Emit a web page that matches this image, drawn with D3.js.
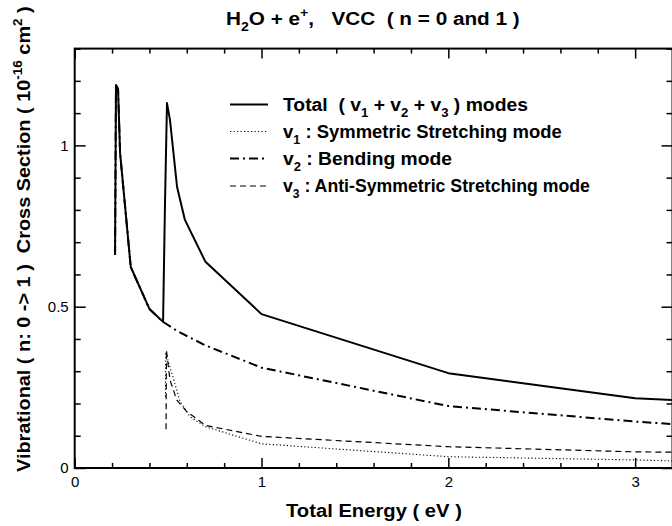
<!DOCTYPE html>
<html><head><meta charset="utf-8">
<script src="https://cdn.jsdelivr.net/npm/d3@7"></script>
<style>body{margin:0;background:#fff}svg{display:block}text{font-family:"Liberation Sans",Arial,Helvetica,sans-serif;fill:#000}</style>
</head><body>
<svg id="c" width="672" height="526"></svg>
<script>
// ---- data ----
const xMajorTicks = [0, 1, 2, 3];
const xTickLabels = ["0", "1", "2", "3"];
const xMinorTicks = [0.2,0.4,0.6,0.8,1.2,1.4,1.6,1.8,2.2,2.4,2.6,2.8,3.2];
const yMajorTicks = [0, 0.5, 1];
const yTickLabels = ["0", "0.5", "1"];
const yMinorTicks = [0.1,0.2,0.3,0.4,0.6,0.7,0.8,0.9,1.1,1.2,1.3];

const totalE = [0.216,0.221,0.232,0.243,0.3,0.4,0.473,0.483,0.494,0.51,0.548,0.59,0.7,1.0,2.0,3.0,3.2];
const totalY = [0.66,1.187,1.175,0.976,0.623,0.493,0.453,0.809,1.131,1.079,0.871,0.769,0.639,0.477,0.294,0.216,0.211];
const v1E = [0.486,0.488,0.501,0.528,0.564,0.617,0.7,1.0,2.0,3.0,3.2];
const v1Y = [0.221,0.36,0.33,0.278,0.206,0.159,0.128,0.075,0.035,0.025,0.022];
const v2E = [0.216,0.221,0.232,0.243,0.3,0.4,0.473,0.55,0.7,1.0,2.0,3.0,3.2];
const v2Y = [0.66,1.187,1.175,0.976,0.623,0.493,0.453,0.424,0.38,0.311,0.192,0.144,0.136];
const v3E = [0.489,0.491,0.51,0.546,0.6,0.7,1.0,2.0,3.0,3.2];
const v3Y = [0.12,0.365,0.273,0.211,0.175,0.132,0.098,0.066,0.05,0.049];

const titleText = [["H",""],["2","sub"],["O + e",""],["+","sup"],[",   VCC  ( n = 0 and 1 )",""]];
const xLabelText = [["Total Energy ( eV )",""]];
const yLabelText = [["Vibrational ( n: 0 -> 1 )  Cross Section ( 10",""],["-16","sup"],[" cm",""],["2","sup"],[" )",""]];
const legendLabels = [
  [["Total  ( v",""],["1","sub"],[" + v",""],["2","sub"],[" + v",""],["3","sub"],[" ) modes",""]],
  [["v",""],["1","sub"],[" : Symmetric Stretching mode",""]],
  [["v",""],["2","sub"],[" : Bending mode",""]],
  [["v",""],["3","sub"],[" : Anti-Symmetric Stretching mode",""]]
];

// ---- layout ----
const svg = d3.select("#c");
const L = 74.7, R = 672.5, T = 48.6, B = 468;
const x = d3.scaleLinear().domain([0, 3.2]).range([L, R]);
const y = d3.scaleLinear().domain([0, 1.3]).range([B, T]);

const styles = [
  {w: 2, dash: null},
  {w: 1.1, dash: "1.2,2.3"},
  {w: 2, dash: "9,4,2,4"},
  {w: 1.2, dash: "6,4"}
];

// axes (inward ticks on all four sides)
function styleAxis(g) {
  g.select(".domain").remove();
  g.selectAll("line").attr("stroke", "#000").attr("stroke-width", 1.5);
  g.selectAll("text").attr("font-size", 15).attr("font-weight", "normal").attr("fill", "#000");
}
svg.append("g").attr("transform", `translate(0,${B})`)
  .call(d3.axisBottom(x).tickValues(xMajorTicks).tickSize(-10).tickPadding(8.5).tickFormat((d,i)=>xTickLabels[i])).call(styleAxis);
svg.append("g").attr("transform", `translate(0,${B})`)
  .call(d3.axisBottom(x).tickValues(xMinorTicks).tickSize(-5).tickFormat("")).call(styleAxis);
svg.append("g").attr("transform", `translate(0,${T})`)
  .call(d3.axisTop(x).tickValues(xMajorTicks).tickSize(-10).tickFormat("")).call(styleAxis);
svg.append("g").attr("transform", `translate(0,${T})`)
  .call(d3.axisTop(x).tickValues(xMinorTicks).tickSize(-5).tickFormat("")).call(styleAxis);
svg.append("g").attr("transform", `translate(${L},0)`)
  .call(d3.axisLeft(y).tickValues(yMajorTicks).tickSize(-11).tickPadding(6).tickFormat((d,i)=>yTickLabels[i])).call(styleAxis);
svg.append("g").attr("transform", `translate(${L},0)`)
  .call(d3.axisLeft(y).tickValues(yMinorTicks).tickSize(-6).tickFormat("")).call(styleAxis);
svg.append("g").attr("transform", `translate(${R},0)`)
  .call(d3.axisRight(y).tickValues(yMajorTicks).tickSize(-11).tickFormat("")).call(styleAxis);
svg.append("g").attr("transform", `translate(${R},0)`)
  .call(d3.axisRight(y).tickValues(yMinorTicks).tickSize(-6).tickFormat("")).call(styleAxis);

svg.append("rect").attr("x", L).attr("y", T).attr("width", R - L).attr("height", B - T)
  .attr("fill", "none").attr("stroke", "#000").attr("stroke-width", 2);

// curves
svg.append("clipPath").attr("id", "clip").append("rect")
  .attr("x", L).attr("y", T).attr("width", R - L).attr("height", B - T);
const line = d3.line().x(d => x(d[0])).y(d => y(d[1]));
const series = [[totalE,totalY],[v1E,v1Y],[v2E,v2Y],[v3E,v3Y]];
const plot = svg.append("g").attr("clip-path", "url(#clip)");
[2,1,3,0].forEach(i => {
  const [E, Y] = series[i];
  plot.append("path").datum(E.map((e,k)=>[e,Y[k]]))
    .attr("d", line).attr("fill", "none").attr("stroke", "#000")
    .attr("stroke-width", styles[i].w).attr("stroke-dasharray", styles[i].dash)
    .attr("stroke-linejoin", "round");
});

// rich text helper
function rich(parent, segs, size, weight) {
  const t = parent.append("text").attr("font-size", size).attr("font-weight", weight).style("white-space", "pre");
  let shift = 0;
  segs.forEach(([s, k]) => {
    const target = k === "sub" ? size * 0.32 : k === "sup" ? -size * 0.42 : 0;
    t.append("tspan").attr("dy", target - shift).attr("font-size", k ? size * 0.68 : size).text(s);
    shift = target;
  });
  return t;
}
function place(segs, size, x0, y0, width, rot) {
  const g = svg.append("g");
  const t = rich(g, segs, size, "bold");
  const w = t.node().getBBox().width;
  g.attr("transform", `translate(${x0},${y0})${rot ? " rotate(-90)" : ""} scale(${width / w},1)`);
}
place(titleText, 19, 226, 25, 294, false);
place(xLabelText, 19, 286, 517, 176, false);
place(yLabelText, 19, 30, 472, 466, true);

// legend
const legendY = [104.5, 131.5, 158.5, 186];
const legendW = [245, 279, 169, 307];
legendLabels.forEach((segs, i) => {
  svg.append("line").attr("x1", 230).attr("x2", 268).attr("y1", legendY[i]).attr("y2", legendY[i])
    .attr("stroke", "#000").attr("stroke-width", styles[i].w).attr("stroke-dasharray", styles[i].dash);
  place(segs, 19, 283, legendY[i] + 6, legendW[i], false);
});
</script>
</body></html>
